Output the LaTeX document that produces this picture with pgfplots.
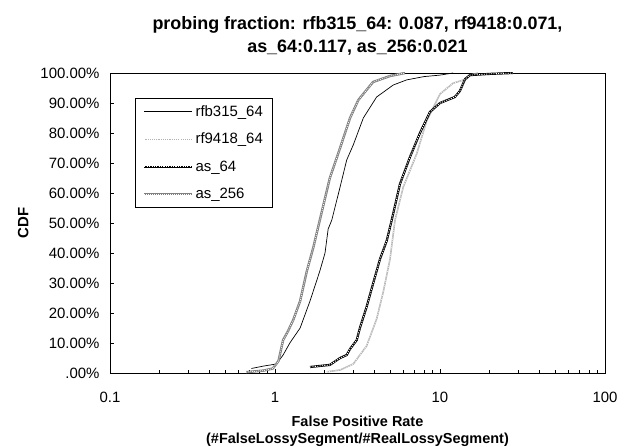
\documentclass[border=0pt]{standalone}
\usepackage{pgfplots}
\pgfplotsset{compat=1.18}
\usepackage{fontspec}
\setmainfont{Liberation Sans}
\begin{document}
\begin{tikzpicture}
\begin{axis}[
  scale only axis, width=495bp, height=300bp,
  xmode=log, xmin=0.1, xmax=100, ymin=0, ymax=100,
  axis line style={line width=0.9pt},
  xtick={0.1,1,10,100}, xticklabels={0.1,1,10,100},
  minor xtick={0.2,0.3,0.4,0.5,0.6,0.7,0.8,0.9,2,3,4,5,6,7,8,9,20,30,40,50,60,70,80,90},
  ytick={0,10,...,100},
  yticklabels={.00\%,10.00\%,20.00\%,30.00\%,40.00\%,50.00\%,60.00\%,70.00\%,80.00\%,90.00\%,100.00\%},
  tick pos=left, tick align=inside,
  major tick length=4bp, minor tick length=3bp,
  tick style={black, line width=0.8pt},
  ticklabel style={font=\fontsize{15}{17}\selectfont},
  xticklabel style={yshift=-16bp},
  yticklabel style={xshift=-7bp},
  title={\bfseries probing fraction: rfb315\_64: 0.087, rf9418:0.071,\\ \bfseries as\_64:0.117, as\_256:0.021},
  title style={align=center, font=\fontsize{18}{23}\selectfont, yshift=8bp},
  xlabel={\bfseries False Positive Rate\\ \bfseries (\#FalseLossySegment/\#RealLossySegment)},
  xlabel style={align=center, font=\fontsize{14.5}{17}\selectfont, yshift=-6bp},
  ylabel={\bfseries CDF},
  ylabel style={font=\fontsize{15}{17}\selectfont, yshift=5bp},
  legend style={at={(0.05,0.917)}, anchor=north west, draw=black, line width=0.8pt, fill=white,
    font=\fontsize{15}{17}\selectfont, row sep=11.5bp, inner xsep=8bp, inner ysep=5bp},
  legend cell align=left,
  legend image code/.code={\draw[#1] plot coordinates {(0bp,0bp) (6bp,0bp) (12bp,0bp) (18bp,0bp) (24bp,0bp) (30bp,0bp) (36bp,0bp) (42bp,0bp) (48bp,0bp)};},
]
\addplot[black, line width=0.7pt] coordinates {
(0.72,1.5) (0.85,2.3) (1.02,3) (1.12,6) (1.23,10) (1.42,15) (1.63,24) (1.87,34) (2.01,40) (2.10,48) (2.21,51) (2.48,62) (2.72,71) (2.98,76) (3.43,85) (4.13,92) (5.21,96) (6.28,97.7) (8.0,98.8) (10,99.3) (12,100)
};
\addlegendentry{rfb315\_64}
\addplot[gray!60, line width=1.5pt, postaction={draw=white, line width=0.6pt, dash pattern=on 1pt off 1.2pt}] coordinates {
(2.06,0.4) (2.48,1) (2.98,3) (3.59,9) (4.13,18) (4.53,27) (4.98,38) (5.34,51) (5.99,62) (7.22,73) (8.30,84) (10,93) (12,96.6) (14.5,98) (15.2,99.3) (17,100)
};
\addlegendentry{rf9418\_64}
\addplot[black, line width=2.2pt, postaction={draw=white, line width=0.8pt, dash pattern=on 1.1pt off 1.3pt}] coordinates {
(1.63,2) (2.15,2.7) (2.48,5) (2.72,6) (2.85,8) (3.13,11) (3.27,15) (3.59,22) (3.94,30) (4.33,38) (4.75,44) (5.10,51) (5.72,63) (6.58,72) (7.56,80) (8.69,87) (10,90) (12.3,92) (13.2,94) (14.2,98) (15.2,99.3) (20,99.7) (27.7,100)
};
\addlegendentry{as\_64}
\addplot[gray, line width=2.4pt, postaction={draw=white, line width=0.8pt, dash pattern=on 0.8pt off 1.2pt}] coordinates {
(0.67,0.3) (0.85,0.8) (0.97,1.5) (1.05,4) (1.12,11) (1.20,14) (1.29,17.7) (1.42,24) (1.56,34) (1.71,42) (1.87,51) (2.15,65) (2.48,75) (2.85,85) (3.20,91) (3.93,97) (4.98,99) (6.14,100)
};
\addlegendentry{as\_256}
\end{axis}
\pgfresetboundingbox
\path (current axis.south west) ++(-110bp,-74bp) rectangle ++(625bp,447bp);
\end{tikzpicture}
\end{document}
